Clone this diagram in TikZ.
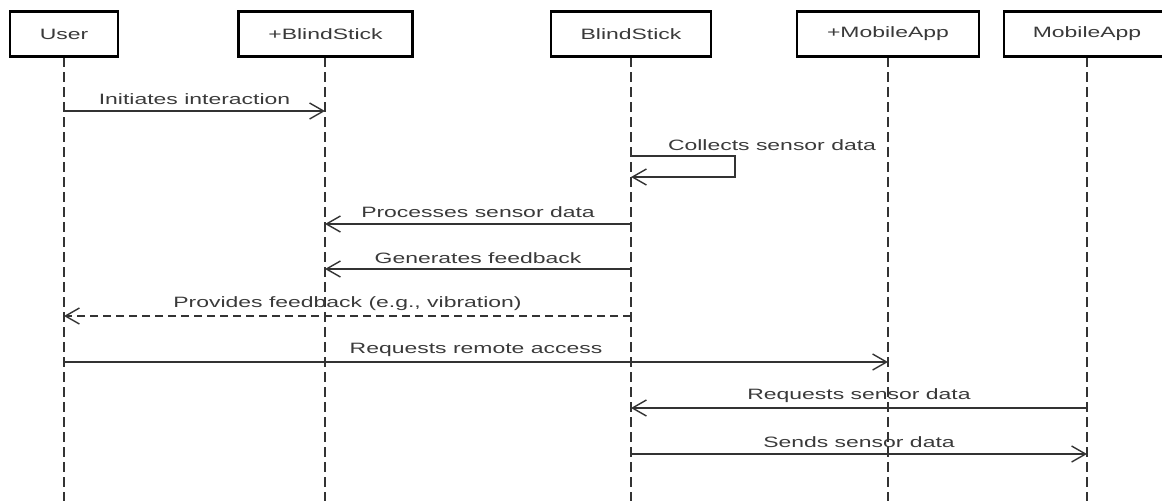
\documentclass[tikz,border=0pt]{standalone}
\usepackage{fontspec}
\usepackage{graphicx}
\setmainfont{Liberation Sans}
\usetikzlibrary{arrows.meta}
\definecolor{ink}{HTML}{333333}
\definecolor{txt}{HTML}{3a3a3a}
\newcommand{\wtxt}[1]{\scalebox{1.53}[1]{#1}}
\tikzset{
  actor/.style={draw=black, line width=2.8pt, fill=white, minimum height=45pt, inner sep=0pt, text=txt, font=\fontsize{15}{17}\selectfont},
  life/.style={draw=ink, line width=1.8pt, dash pattern=on 10pt off 5pt},
  msg/.style={draw=ink, line width=1.4pt, -{Straight Barb[length=14pt, width=16pt, line width=1.4pt]}},
  reply/.style={msg, dash pattern=on 8pt off 5pt},
  lbl/.style={text=txt, font=\fontsize{15}{17}\selectfont, inner sep=0pt}
}
\begin{document}
\begin{tikzpicture}[x=1pt, y=-1pt]
\useasboundingbox (0,0) rectangle (1162,501);
\clip (0,0) rectangle (1162,501);
% lifelines
\coordinate (uB) at (64,501);
\coordinate (bpB) at (325,501);
\coordinate (bB) at (631,501);
\coordinate (mpB) at (888,501);
\coordinate (mB) at (1087,501);
\draw[life] (64,57) -- (uB);
\draw[life] (325,57) -- (bpB);
\draw[life] (631,57) -- (bB);
\draw[life] (888,57) -- (mpB);
\draw[life] (1087,57) -- (mB);
% actors
\node[actor, minimum width=108pt] (user) at (64,34) {\wtxt{User}};
\node[actor, minimum width=174pt] (bsp) at (325.5,34) {\wtxt{+BlindStick}};
\node[actor, minimum width=160pt] (bs) at (631,34) {\wtxt{BlindStick}};
\node[actor, minimum width=182pt] (map) at (888,34) {\wtxt{+MobileApp}};
\node[actor, minimum width=166pt] (ma) at (1087,34) {\wtxt{MobileApp}};
% message anchor points
\coordinate (u1) at (64,111);   \coordinate (bp1) at (325,111);
\coordinate (b2) at (631,156);  \coordinate (b2r) at (735,156);
\coordinate (b2e) at (735,177); \coordinate (b2f) at (631,177);
\coordinate (b3) at (631,224);  \coordinate (bp3) at (325,224);
\coordinate (b4) at (631,269);  \coordinate (bp4) at (325,269);
\coordinate (b5) at (631,316);  \coordinate (u5) at (64,316);
\coordinate (u6) at (64,362);   \coordinate (mp6) at (888,362);
\coordinate (m7) at (1087,408); \coordinate (b7) at (631,408);
\coordinate (b8) at (631,454);  \coordinate (m8) at (1087,454);
% messages
\draw[msg] (u1) -- (bp1);
\node[lbl] (l1) at (194.5,99) {\wtxt{Initiates interaction}};
\draw[msg] (b2) -- (b2r) -- (b2e) -- (b2f);
\node[lbl] (l2) at (772,145) {\wtxt{Collects sensor data}};
\draw[msg] (b3) -- (bp3);
\node[lbl] (l3) at (478,212) {\wtxt{Processes sensor data}};
\draw[msg] (b4) -- (bp4);
\node[lbl] (l4) at (478,258) {\wtxt{Generates feedback}};
\draw[reply] (b5) -- (u5);
\node[lbl] (l5) at (347.5,304) {\wtxt{Provides feedback (e.g., vibration)}};
\draw[msg] (u6) -- (mp6);
\node[lbl] (l6) at (476,350) {\wtxt{Requests remote access}};
\draw[msg] (m7) -- (b7);
\node[lbl] (l7) at (859,396) {\wtxt{Requests sensor data}};
\draw[msg] (b8) -- (m8);
\node[lbl] (l8) at (859,442) {\wtxt{Sends sensor data}};
\end{tikzpicture}
\end{document}
